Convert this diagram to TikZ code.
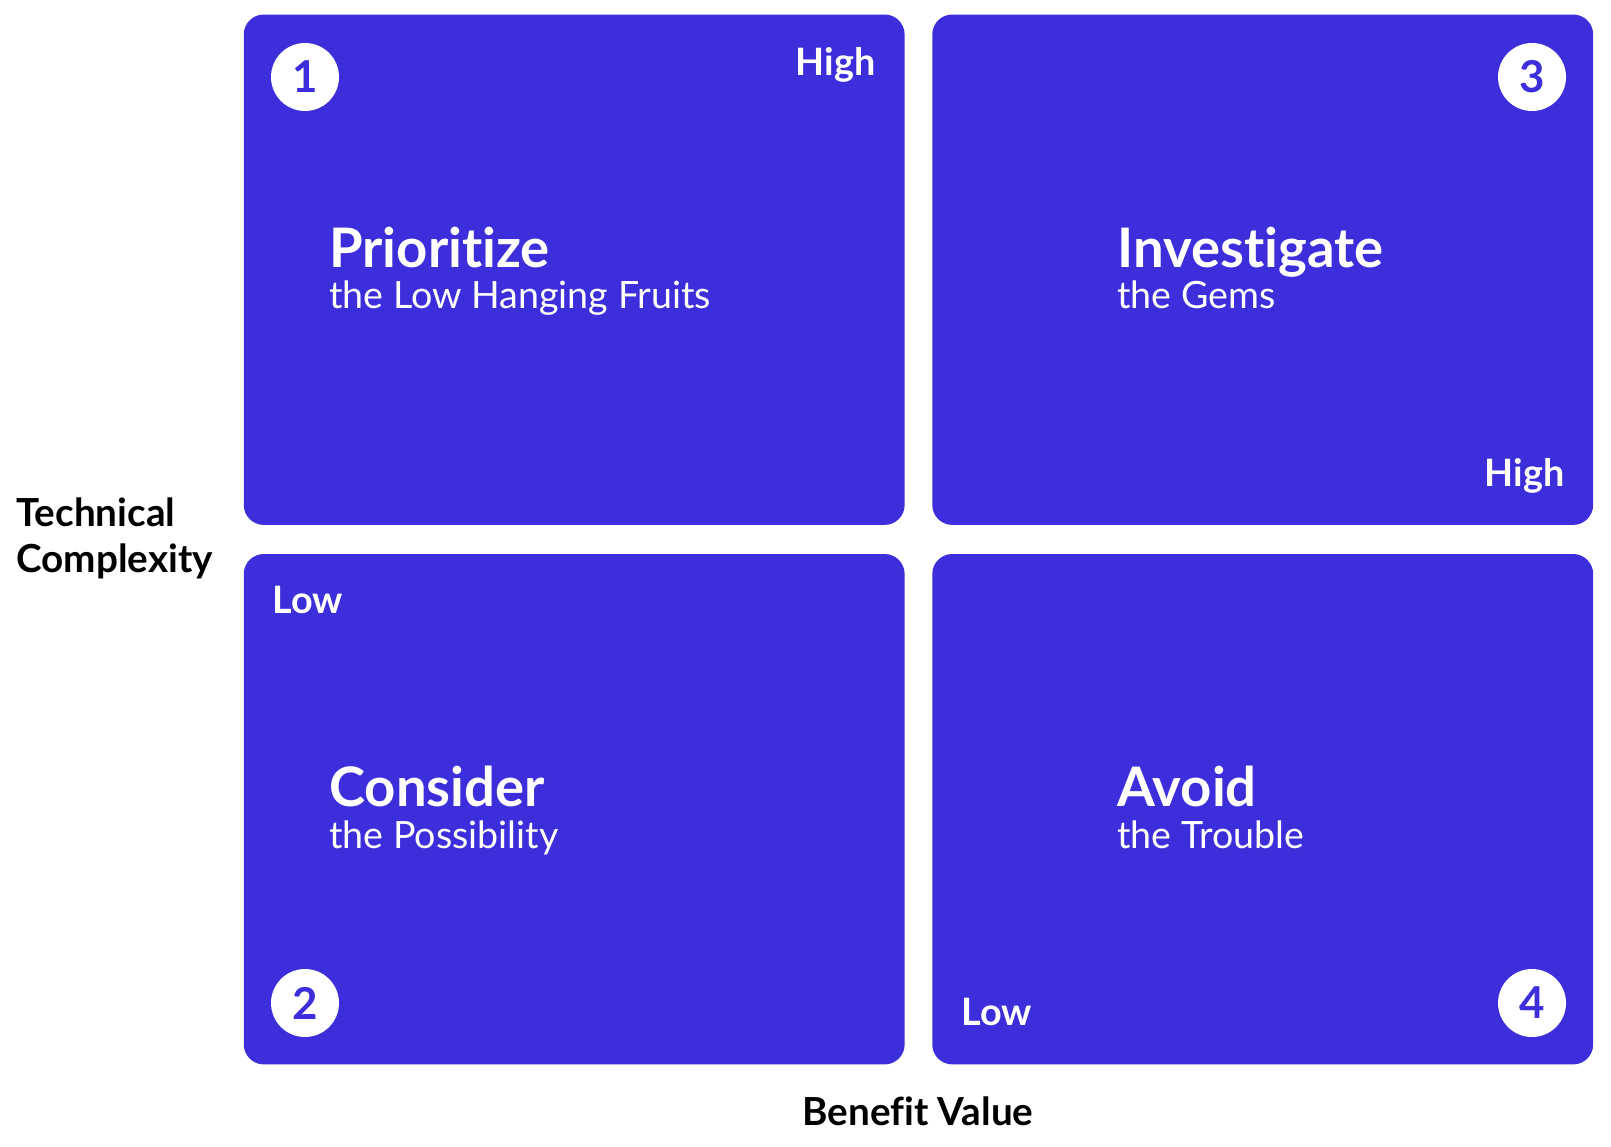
\documentclass[tikz,border=0pt]{standalone}
\usepackage{fontspec}
\setmainfont{Lato}[Ligatures={NoCommon,NoDiscretionary}]
\usepackage{xcolor}
\definecolor{quadblue}{RGB}{60,46,218}

\begin{document}
\begin{tikzpicture}[x=0.02cm,y=-0.02cm,
  quad/.style={rectangle, rounded corners=0.4cm, fill=quadblue, draw=none,
    minimum width=13.22cm, minimum height=10.21cm, inner sep=0pt},
  numdot/.style={circle, fill=white, minimum size=1.36cm, inner sep=0pt,
    text=quadblue, font=\fontsize{25}{25}\selectfont\bfseries},
  head/.style={anchor=base west, inner sep=0pt, text=white, font=\fontsize{31}{31}\selectfont\bfseries},
  sub/.style={anchor=base west, inner sep=0pt, text=white, font=\fontsize{21.4}{21.4}\selectfont},
  level/.style={inner sep=0pt, text=white, font=\fontsize{21.5}{21.5}\selectfont\bfseries},
  axis/.style={inner sep=0pt, text=black, font=\fontsize{22}{25.7}\selectfont\bfseries, align=left}]
\useasboundingbox (0,0) rectangle (1611,1146);
% quadrants
\node [quad] (q1) at (574.2,269.7){};
\node [quad] (q3) at (1262.7,269.7){};
\node [quad] (q2) at (574.2,809.2){};
\node [quad] (q4) at (1262.7,809.2){};
% numbers
\node [numdot] (n1) at (305,77){1};
\node [numdot] (n3) at (1532,77){3};
\node [numdot] (n2) at (305,1003){2};
\node [numdot] (n4) at (1532,1003){4};
% titles
\node [head] (t1) at (329,267){Prioritize};
\node [sub] (s1) at (329,308){the Low Hanging Fruits};
\node [head] (t3) at (1117,267){Investigate};
\node [sub] (s3) at (1117,308){the Gems};
\node [head] (t2) at (329,806){Consider};
\node [sub] (s2) at (329,848){the Possibility};
\node [head] (t4) at (1117,806){Avoid};
\node [sub] (s4) at (1117,848){the Trouble};
% high / low
\node [level, anchor=base east] (h1) at (876,75){High};
\node [level, anchor=base east] (h3) at (1565,486){High};
\node [level, anchor=base west] (l2) at (272,613){Low};
\node [level, anchor=base west] (l4) at (961,1025){Low};
% axes
\node [axis, anchor=base west] (yl) at (16,572){Technical\\Complexity};
\node [axis, anchor=base] (xl) at (918,1125){Benefit Value};
\end{tikzpicture}
\end{document}
